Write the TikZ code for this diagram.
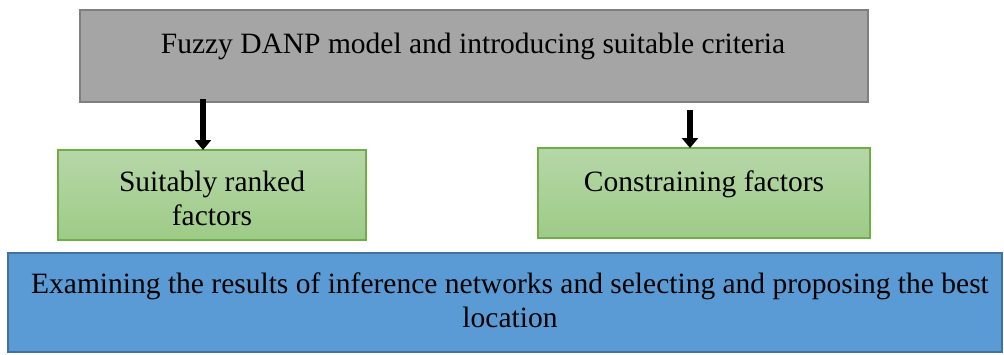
\documentclass[tikz,border=0pt]{standalone}
\usepackage{fontspec}
\setmainfont{Liberation Serif}
\usetikzlibrary{arrows.meta}
\definecolor{grayfill}{HTML}{A5A5A5}
\definecolor{grayline}{HTML}{7F7F7F}
\definecolor{greentop}{HTML}{B6D7A8}
\definecolor{greenbot}{HTML}{9ECB87}
\definecolor{greenline}{HTML}{70AD47}
\definecolor{bluefill}{HTML}{5B9BD5}
\definecolor{blueline}{HTML}{41719C}
\tikzset{
  box/.style={draw, anchor=north west, inner sep=0pt, outer sep=0pt},
  graybox/.style={box, fill=grayfill, draw=grayline, line width=2.5pt},
  greenbox/.style={box, top color=greentop, bottom color=greenbot, draw=greenline, line width=1.5pt},
  bluebox/.style={box, fill=bluefill, draw=blueline, line width=2.5pt},
  txt/.style={align=center, font=\fontsize{29.5}{34}\selectfont, inner sep=0pt},
  arr/.style={line width=6.5pt, -{Triangle[width=16pt,length=10pt]}}
}
\begin{document}
\begin{tikzpicture}[x=1pt,y=-1pt]
\useasboundingbox (0,0) rectangle (1004,354);
\node[graybox, minimum width=788pt, minimum height=92pt] (g) at (80,10) {};
\node[txt] (gt) at (473,46) {Fuzzy DANP model and introducing suitable criteria};
\node[greenbox, minimum width=308pt, minimum height=90pt] (lg) at (58,150) {};
\node[txt] (lgt) at (212,198) {Suitably ranked\\factors};
\node[greenbox, minimum width=332pt, minimum height=90pt] (rg) at (538,148) {};
\node[txt] (rgt) at (704,184) {Constraining factors};
\node[bluebox, minimum width=994pt, minimum height=99pt] (b) at (8,253) {};
\node[txt] (bt) at (510,300) {Examining the results of inference networks and selecting and proposing the best\\location};
\draw[arr] ([xshift=-9pt,yshift=3pt]lg.north |- g.south) -- ([xshift=-9pt]lg.north);
\draw[arr] ([xshift=-14pt,yshift=-8pt]rg.north |- g.south) -- ([xshift=-14pt]rg.north);
\end{tikzpicture}
\end{document}
